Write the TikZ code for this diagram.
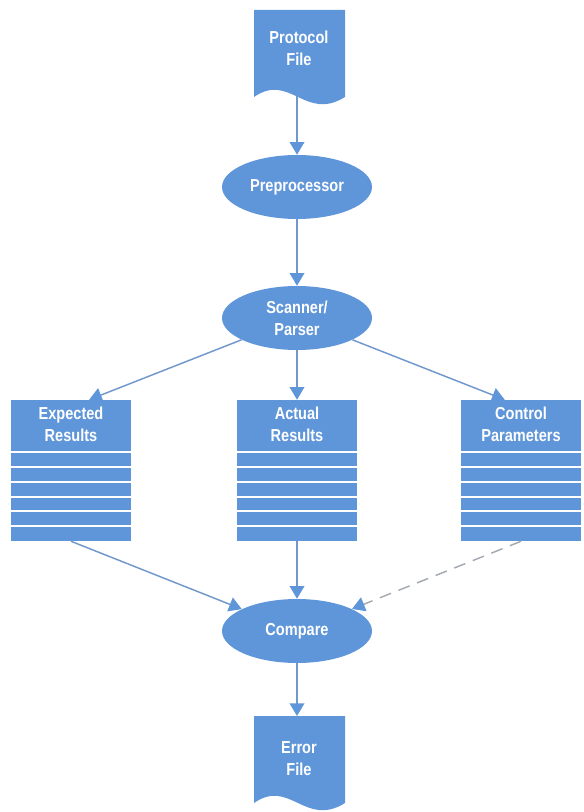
\documentclass[tikz,border=0pt]{standalone}
\usepackage{fontspec}
\newfontfamily\flowfont{Liberation Sans}[FakeStretch=0.84]
\usetikzlibrary{arrows.meta,shapes.geometric,calc}
\definecolor{boxblue}{HTML}{5F96D9}
\definecolor{wireblue}{HTML}{7198CC}
\definecolor{dashgrey}{HTML}{A4AAB2}

\begin{document}
\begin{tikzpicture}[x=0.75pt, y=-0.75pt,
  >={Triangle[width=11pt,length=9.5pt,color=boxblue]},
  txt/.style={text=white, font=\flowfont\bfseries\fontsize{13}{16.5}\selectfont, align=center, inner sep=0pt},
  proc/.style={ellipse, fill=boxblue, minimum width=112.5pt, minimum height=48pt, inner sep=0pt, txt},
  rec/.style={fill=boxblue, minimum width=90pt, minimum height=105.75pt, inner sep=0pt},
  wire/.style={wireblue, line width=1.1pt, ->},
  dashwire/.style={dashgrey, line width=1.1pt, dash pattern=on 9pt off 6pt, ->}]

\useasboundingbox (0,0) rectangle (583,812);

% ---------- files (wavy bottom)
\foreach \dy in {0,706}{
  \fill[boxblue] (254,10+\dy) -- (254,97+\dy) .. controls (290,72+\dy) and (305,122+\dy) .. (345,97+\dy)
    -- (345,10+\dy) -- cycle; }
\node[txt] (proto) at (299,48) {Protocol\\File};
\node[txt] (err) at (299,759) {Error\\File};
\coordinate (proto-end) at (297,95);
\coordinate (err-top) at (297,716);

% ---------- processes
\node[proc] (pre) at (297,187) {Preprocessor};
\node[proc] (scan) at (297,318) {Scanner/\\Parser};
\node[proc] (cmp) at (297,631) {Compare};

% ---------- record tables
\node[rec] (exp) at (71,470.5) {};
\node[rec] (act) at (297,470.5) {};
\node[rec] (ctl) at (521,470.5) {};
\foreach \n in {exp,act,ctl}{
  \foreach \y in {452,467,482,497,511,526}{
    \draw[white, line width=1.1pt] (\n.west |- 0,\y) -- (\n.east |- 0,\y); } }
\node[txt] (expT) at (71,424) {Expected\\Results};
\node[txt] (actT) at (297,424) {Actual\\Results};
\node[txt] (ctlT) at (521,424) {Control\\Parameters};

% ---------- flow
\draw[wire] (proto-end) -- (pre);
\draw[wire] (pre) -- (scan);
\draw[wire] (scan) -- ($(exp.north)!0.3!(exp.north east)$);
\draw[wire] (scan) -- (act);
\draw[wire] (scan) -- ($(ctl.north)!0.27!(ctl.north west)$);
\draw[wire] (exp.south) -- (cmp);
\draw[wire] (act) -- (cmp);
\draw[dashwire] (ctl.south) -- (cmp);
\draw[wire] (cmp) -- (err-top);

\end{tikzpicture}
\end{document}
